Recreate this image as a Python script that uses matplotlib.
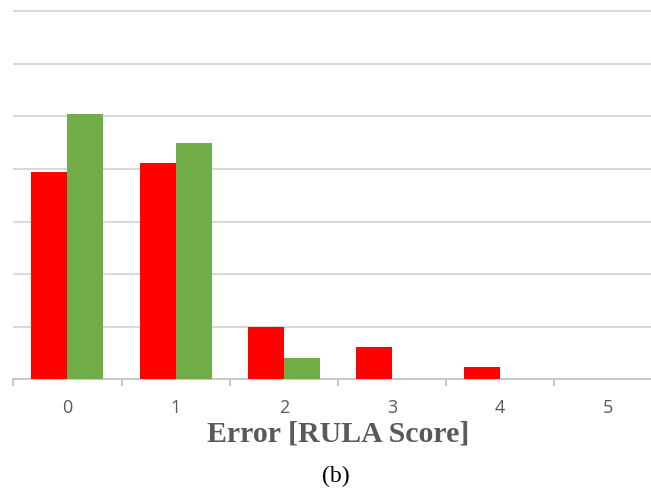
import numpy as np
import matplotlib
matplotlib.use('Agg')
import matplotlib.pyplot as plt

# Data (gridline spacing = 1 unit, no y labels shown)
categories = ['0', '1', '2', '3', '4', '5']
red_values = [3.95, 4.11, 1.00, 0.61, 0.24, 0.0]
green_values = [5.04, 4.49, 0.40, 0.0, 0.0, 0.0]

W, H = 651, 491
fig = plt.figure(figsize=(W / 100, H / 100), dpi=100)

# Axes: left edge at x=13.3px, category width ~108.2px (runs past the right edge)
left = 13.3 / W
width = 6 * 108.2 / W
bottom = (H - 379.3) / H
height = 7.05 * 52.6 / H
ax = fig.add_axes([left, bottom, width, height])

x = np.arange(len(categories))
bw = 1 / 3
ax.bar(x - bw / 2, red_values, bw, color='#ff0000', zorder=3)
ax.bar(x + bw / 2, green_values, bw, color='#70ad47', zorder=3)

ax.set_xlim(-0.5, len(categories) - 0.5)
ax.set_ylim(0, 7.05)

# Gridlines
ax.set_yticks(np.arange(1, 8))
ax.yaxis.grid(True, color='#d9d9d9', linewidth=1.5, zorder=0)
ax.tick_params(axis='y', left=False, labelleft=False)

# Spines
for s in ['top', 'right', 'left']:
    ax.spines[s].set_visible(False)
ax.spines['bottom'].set_color('#bfbfbf')
ax.spines['bottom'].set_linewidth(1.2)

# X ticks: labels at centres, tick marks at boundaries
ax.set_xticks(x)
ax.set_xticklabels(categories, fontsize=13, color='#595959', family='Open Sans')
ax.tick_params(axis='x', which='major', length=0, pad=14)
ax.set_xticks(np.arange(-0.5, len(categories)), minor=True)
ax.tick_params(axis='x', which='minor', length=5, color='#bfbfbf', width=1.2)

ax.set_xlabel('Error [RULA Score]', fontsize=21.5, fontweight='bold',
              family='Liberation Serif', color='#595959', labelpad=3)

fig.text(336 / W, 1 - 476.7 / H, '(b)', fontsize=17, family='Liberation Serif',
         ha='center', va='center', color='black')

fig.savefig('out.png', dpi=100)
